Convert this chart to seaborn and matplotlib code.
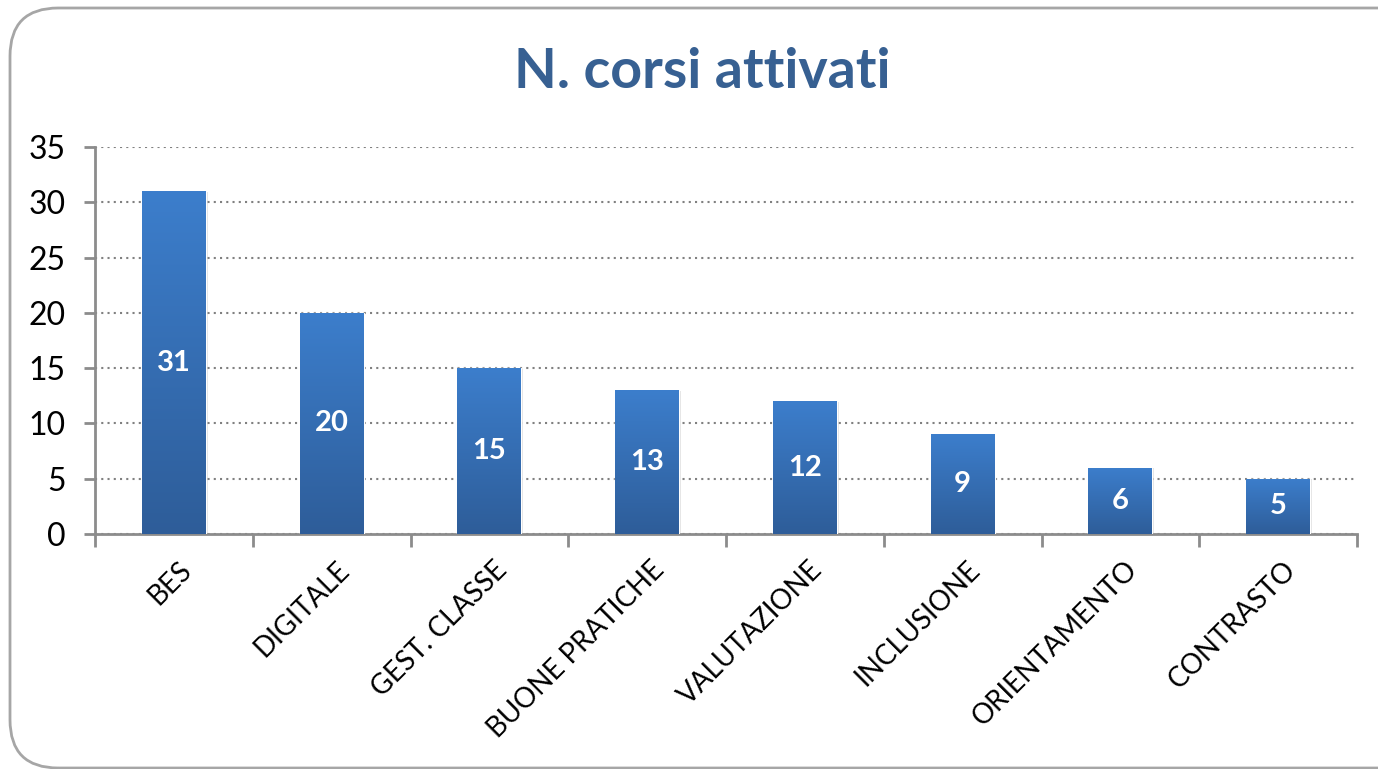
import numpy as np
import pandas as pd
import matplotlib
matplotlib.use("Agg")
import matplotlib.pyplot as plt
from matplotlib.patches import FancyBboxPatch
from matplotlib.colors import LinearSegmentedColormap
import seaborn as sns

categories = ["BES", "DIGITALE", "GEST. CLASSE", "BUONE PRATICHE",
              "VALUTAZIONE", "INCLUSIONE", "ORIENTAMENTO", "CONTRASTO"]
values = [31, 20, 15, 13, 12, 9, 6, 5]
yticks = [0, 5, 10, 15, 20, 25, 30, 35]

sns.set_theme(style="white")
plt.rcParams["font.family"] = ["Lato", "DejaVu Sans"]

df = pd.DataFrame({"corso": categories, "n": values})

fig = plt.figure(figsize=(13.78, 7.69), dpi=100)
# rounded frame of the chart area
frame = FancyBboxPatch((10 / 1378, 1 / 769), 1.2, 760 / 769,
                       boxstyle="round,pad=0,rounding_size=0.035",
                       transform=fig.transFigure, fc="none", ec="#A6A6A6", lw=2,
                       mutation_aspect=1378 / 769, zorder=0)
fig.patches.append(frame)

ax = fig.add_axes([95 / 1378, 1 - 534 / 769, 1262 / 1378, 387 / 769])
ax.patch.set_alpha(0)
sns.barplot(data=df, x="corso", y="n", color="#3A78C4", width=0.405,
            saturation=1, ax=ax, zorder=3)

# gradient fill on bars
cmap = LinearSegmentedColormap.from_list("bar", ["#2E5D99", "#3C7ECC"])
grad = np.linspace(0, 1, 256).reshape(-1, 1)
for p in list(ax.patches):
    x0, y0 = p.get_x(), p.get_y()
    w, h = p.get_width(), p.get_height()
    im = ax.imshow(grad, cmap=cmap, origin="lower", aspect="auto",
                   extent=[x0, x0 + w, y0, y0 + h], zorder=3.5)
    im.set_clip_path(p)
    # soft shadow
    ax.add_patch(plt.Rectangle((x0 + 0.012, y0), w, h - 0.05, fc="#000000",
                               alpha=0.12, zorder=2.9, lw=0))
    ax.text(x0 + w / 2, h / 2, f"{int(round(h))}", ha="center", va="center",
            color="white", fontsize=21, fontweight="bold", zorder=5)

ax.set_xlim(-0.5, len(categories) - 0.5)
ax.set_ylim(0, 35)
ax.set_yticks(yticks)
ax.set_yticklabels([str(t) for t in yticks], fontsize=23)
ax.set_xlabel("")
ax.set_ylabel("")
ax.yaxis.grid(True, ls=(0, (1, 2)), color="#808080", lw=1.5, zorder=1)
ax.set_axisbelow(True)

for s in ["top", "right"]:
    ax.spines[s].set_visible(False)
for s in ["left", "bottom"]:
    ax.spines[s].set_color("#8C8C8C")
    ax.spines[s].set_linewidth(2)

ax.tick_params(axis="y", which="major", left=True, length=8, width=2,
               color="#8C8C8C", pad=13, labelcolor="black")
# x ticks at category boundaries
ax.set_xticks(np.arange(len(categories)) + 0.0)
ax.set_xticklabels(categories, rotation=45, ha="right", rotation_mode="anchor",
                   fontsize=20, color="black")
ax.tick_params(axis="x", which="major", bottom=False, pad=10)
ax.set_xticks(np.arange(len(categories) + 1) - 0.5, minor=True)
ax.tick_params(axis="x", which="minor", bottom=True, length=9, width=2,
               color="#8C8C8C")
for lab in ax.get_xticklabels():
    lab.set_transform(lab.get_transform() + matplotlib.transforms.ScaledTranslation(0.04, 0, fig.dpi_scale_trans))

fig.text(702 / 1378, 1 - 72 / 769, "N. corsi attivati", ha="center", va="center",
         fontsize=40, fontweight="bold", color="#376092")

fig.savefig("out.png", dpi=100)
